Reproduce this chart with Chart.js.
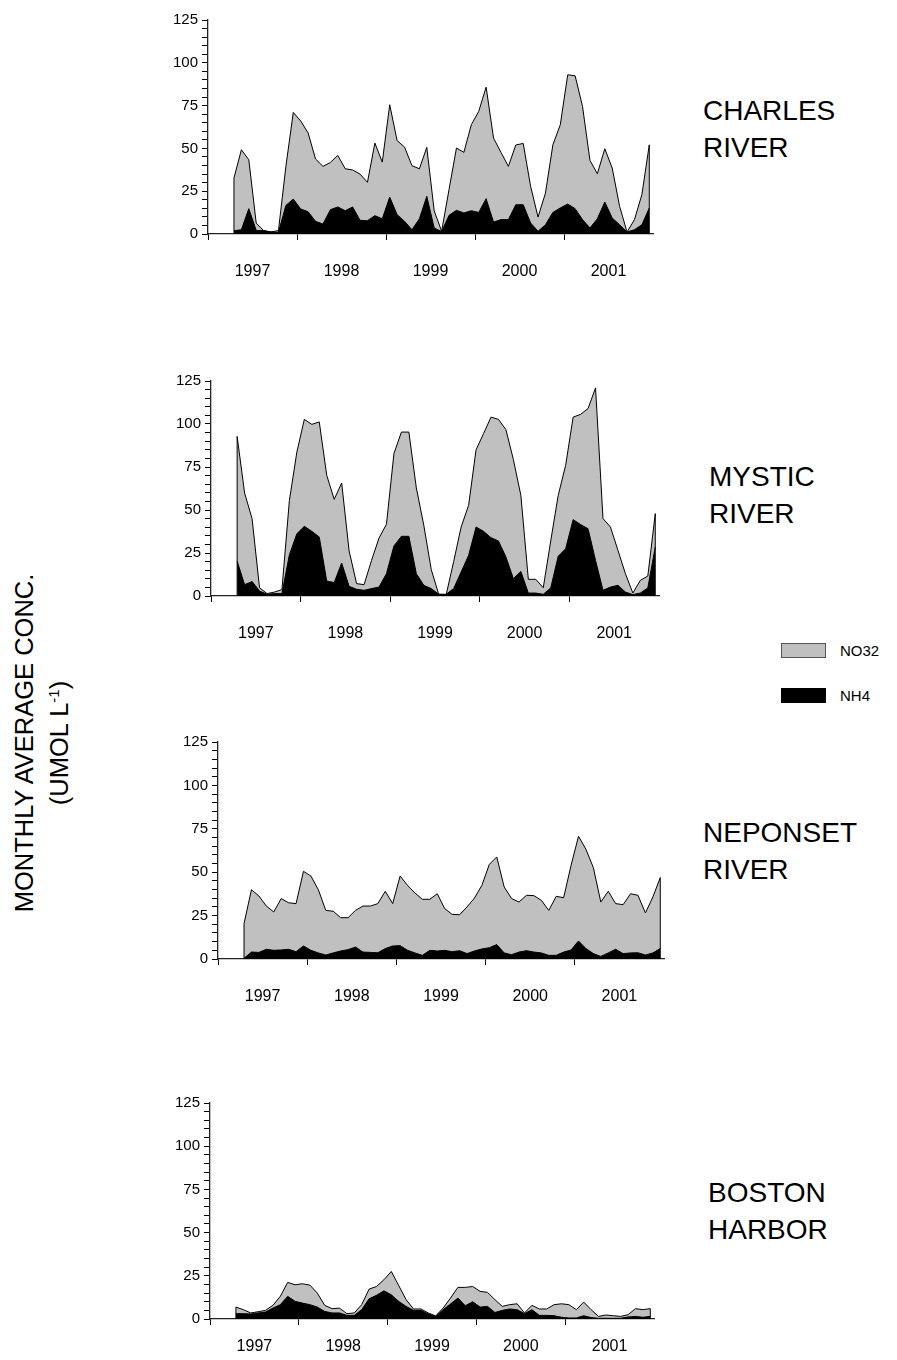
<!DOCTYPE html>
<html><head><meta charset="utf-8">
<script src="https://cdn.jsdelivr.net/npm/chart.js@4.4.0/dist/chart.umd.min.js"></script>
<style>
body{margin:0;background:#fff;width:897px;height:1360px;position:relative;overflow:hidden;font-family:"Liberation Sans",Arial,sans-serif;color:#000;}
canvas{position:absolute;}
.title{position:absolute;font-size:28px;line-height:37px;white-space:nowrap;}
.ytitle{position:absolute;width:400px;height:70px;left:-158px;top:708px;transform:rotate(-90deg);text-align:center;font-size:25.5px;line-height:35px;white-space:nowrap;}
.ytitle sup{font-size:15px;line-height:0;vertical-align:9px;}
.lg-box{position:absolute;width:45px;height:15px;box-sizing:border-box;}
.lg-txt{position:absolute;font-size:15px;line-height:18px;}
</style></head><body>

<div class="ytitle">MONTHLY AVERAGE CONC.<br>(UMOL L<sup>-1</sup>)</div>

<div class="title" style="left:703px;top:92px;">CHARLES<br>RIVER</div>
<div class="title" style="left:709px;top:458px;">MYSTIC<br>RIVER</div>
<div class="title" style="left:703px;top:814px;">NEPONSET<br>RIVER</div>
<div class="title" style="left:708px;top:1174px;">BOSTON<br>HARBOR</div>

<div class="lg-box" style="left:781px;top:643px;background:#c0c0c0;border:1px solid #555;"></div>
<div class="lg-txt" style="left:840px;top:642px;">NO32</div>
<div class="lg-box" style="left:781px;top:688px;background:#000;"></div>
<div class="lg-txt" style="left:840px;top:687px;">NH4</div>

<canvas id="c1"></canvas>
<canvas id="c2"></canvas>
<canvas id="c3"></canvas>
<canvas id="c4"></canvas>

<script>
// ---- data (months counted from Jan 1997; first sample is April 1997) ----
const yearLabels = ['1997', '1998', '1999', '2000', '2001'];
const yTickLabels = ['0', '25', '50', '75', '100', '125'];
const firstMonth = 3;
const seriesNames = ['NO32', 'NH4'];

const charlesNO32 = [32.7,49.2,43.4,6.4,2,1.2,2,39.5,71,66,
  59,43.8,39.5,41.8,45.9,38.1,37.4,35,30.2,53.1,
  42,75.5,54.5,50.8,39.9,38.1,50.6,13.5,1.6,26,
  50.2,47.7,63.8,71.6,85.8,56,47.7,39.5,52,52.9,
  27.8,9.9,23.9,52.1,63.8,93,92.4,74.5,43,35.2,
  49.8,38.5,16.1,1.2,8.4,23,52.1];
const charlesNH4 = [1.9,2.5,14.8,2.1,1.9,1.2,1,16.7,20.4,14.6,
  13,7.4,5.8,14.2,15.8,13.6,15.8,8,7.8,10.7,
  8.9,21.6,11.3,7.4,2.5,8.9,22,3.5,1.5,10.9,
  13.8,12.3,13.6,12.6,20.6,7,8.4,8.4,17.1,17.1,
  6.4,1.6,5.4,12.6,15.2,17.5,14.8,8.4,3.5,8.9,
  18.7,9.3,5.4,1.2,2.5,5.4,15.2];

const mysticNO32 = [92.8,59.9,45,4.8,1.4,2.3,3.7,55.6,83.7,102.7,
  99.8,101.2,70.2,56.2,65.7,26.2,7.2,6.6,20.7,33.7,
  41.7,82.8,95.3,95.3,62.8,41.1,15.3,1,0.8,20,
  40.1,52.7,85,94.4,104,102.7,96.7,79.3,58.5,9.7,
  9.7,4.8,32,58.5,76,104,105.6,109,121,45,
  40.1,26.6,13,1.7,9.1,11.6,47.9];
const mysticNH4 = [20.3,6.6,8.5,2.9,1,1.4,1.4,24,36.2,40.5,
  37.6,34.3,8.7,7.8,19.2,5.6,3.9,3.3,4.3,5.2,
  13,29.1,34.7,34.7,13,6.2,4.3,1,1,4.3,
  14,23.6,40.1,37.6,33.9,32,22.7,10.1,14.3,1.7,
  1.7,1,4.7,23.1,27.5,44.4,41.5,39.1,20.7,3.3,
  5.2,6.2,2.3,0.8,1.7,4.7,28.5];

const neponsetNO32 = [20.4,39.9,36.3,30.5,27.1,34.8,32.4,31.9,50.5,47.8,
  39.9,28,27.5,23.8,23.8,28,30.5,30.5,31.9,39,
  31.9,47.8,42.4,38,34.4,34.4,37.6,29,25.7,25.5,
  30,35.1,42.4,54.5,58.8,41.5,34.8,32.8,36.7,36.5,
  33.8,28,36.1,35.3,54,70.7,63.2,52.6,32.8,39,
  31.9,31.3,37.6,36.7,26.5,35.7,46.9];
const neponsetNH4 = [0.4,4,3.8,5.6,5,5.2,5.6,4.2,7.5,5,
  3.5,2.3,3.5,4.6,5.4,6.9,4,3.8,3.6,6,
  7.5,7.7,5,3.5,2.1,5,4.6,5,4.2,4.8,
  3.1,4.6,5.8,6.5,8.3,3.5,2.5,4,4.8,4,
  3.5,2.1,2.1,4,5.2,10.4,6,3.1,1.5,3.5,
  5.6,3.1,3.5,3.6,2.3,3.5,6.1];

const bostonNO32 = [6.9,5.4,3.5,4.2,5,7.9,13.1,21.2,19.8,20.4,
  19.6,15,7.9,6,6.3,3.1,3.5,8.3,17.3,18.8,
  22.7,27.5,19.4,11.2,5.8,5.8,3.5,1.8,6.3,12.1,
  18.3,18.3,18.8,16,15.4,11.2,7.3,8.3,8.8,3.5,
  7.9,5.8,5.8,8.3,8.8,8.3,5.4,9.8,5.4,1.5,
  2.3,1.9,1.5,2.5,6,5.4,6];
const bostonNH4 = [3.1,3.1,2.9,3.5,4,6.3,8.3,13.1,10.2,9.2,
  8.3,6.9,4.4,3.5,3.5,2.1,2.1,5.4,11.7,13.7,
  16.3,14,10.2,7.3,5,5,2.9,1.5,5.4,8.7,
  12.1,7.7,10,6.9,7.3,3.8,5,5.8,5.4,3.1,
  5.4,2.1,2.1,1.9,1,0.6,0.6,1.9,0.8,0.4,
  0.4,0.4,0.4,1.2,1.5,1,1.5];

// ---- layout (chart-area edges in page pixels) ----
const panels = [
  {id:'c1', no32:charlesNO32,  nh4:charlesNH4,  L:208, R:653, T:20,   B:234,  lp:22},
  {id:'c2', no32:mysticNO32,   nh4:mysticNH4,   L:211, R:659, T:381,  B:596,  lp:22},
  {id:'c3', no32:neponsetNO32, nh4:neponsetNH4, L:218, R:664, T:742,  B:959,  lp:22},
  {id:'c4', no32:bostonNO32,   nh4:bostonNH4,   L:210, R:654, T:1103, B:1319, lp:12}
];
const YW = 60, PT = 15, PR = 15, XH = 52;
const FONT = '"Liberation Sans", Arial, sans-serif';

const yTickVals = [];
for (let v = 0; v <= 125; v += 5) yTickVals.push(v);
const xTickVals = [];
yearLabels.forEach((_, i) => { xTickVals.push(i * 12, i * 12 + 6); });

const toPoints = arr => arr.map((v, i) => ({x: firstMonth + i + 0.5, y: v}));

const edgePlugin = {
  id: 'edges',
  afterDatasetsDraw(chart) {
    const meta = chart.getDatasetMeta(1);
    const pts = meta.data;
    if (!pts.length) return;
    const y0 = chart.scales.y.getPixelForValue(0);
    const ctx = chart.ctx;
    ctx.save();
    ctx.strokeStyle = '#000';
    ctx.lineWidth = 1;
    [pts[0], pts[pts.length - 1]].forEach(p => {
      ctx.beginPath(); ctx.moveTo(p.x, p.y); ctx.lineTo(p.x, y0); ctx.stroke();
    });
    ctx.restore();
  }
};

panels.forEach(p => {
  const cv = document.getElementById(p.id);
  const w = p.R - p.L + YW + PR, h = p.B - p.T + PT + XH;
  cv.width = w; cv.height = h;
  cv.style.left = (p.L - YW) + 'px';
  cv.style.top = (p.T - PT) + 'px';
  cv.style.width = w + 'px'; cv.style.height = h + 'px';
  new Chart(cv, {
    type: 'line',
    data: {
      datasets: [
        {label: seriesNames[1], data: toPoints(p.nh4), fill: 'origin',
         backgroundColor: '#000', borderColor: '#000', borderWidth: 1,
         pointRadius: 0, tension: 0},
        {label: seriesNames[0], data: toPoints(p.no32), fill: 'origin',
         backgroundColor: '#c0c0c0', borderColor: '#000', borderWidth: 1,
         pointRadius: 0, tension: 0}
      ]
    },
    options: {
      responsive: false, animation: false, devicePixelRatio: 1,
      layout: {padding: {left: 0, top: PT, right: PR, bottom: 0}},
      plugins: {legend: {display: false}, tooltip: {enabled: false}},
      scales: {
        x: {
          type: 'linear', min: 0, max: 60,
          afterBuildTicks: ax => { ax.ticks = xTickVals.map(v => ({value: v})); },
          afterFit: s => { s.height = XH; },
          ticks: {autoSkip: false, maxRotation: 0, padding: p.lp, color: '#000',
            font: {size: 16, family: FONT},
            callback: v => (v % 12 === 6 ? yearLabels[(v - 6) / 12] : '')},
          grid: {drawOnChartArea: false, drawTicks: true, tickLength: 6, lineWidth: 1,
            color: ctx => (ctx.tick && ctx.tick.value % 12 === 0 ? '#000' : 'rgba(0,0,0,0)')},
          border: {display: true, color: '#222', width: 1.3}
        },
        y: {
          min: 0, max: 125,
          afterBuildTicks: ax => { ax.ticks = yTickVals.map(v => ({value: v})); },
          afterFit: s => { s.width = YW; },
          ticks: {autoSkip: false, padding: 4, color: '#000',
            font: {size: 15, family: FONT},
            callback: v => (v % 25 === 0 ? yTickLabels[v / 25] : '')},
          grid: {drawOnChartArea: false, drawTicks: true, tickLength: 6, lineWidth: 1, color: '#000'},
          border: {display: true, color: '#222', width: 1.3}
        }
      }
    },
    plugins: [edgePlugin]
  });
});
</script>
</body></html>
